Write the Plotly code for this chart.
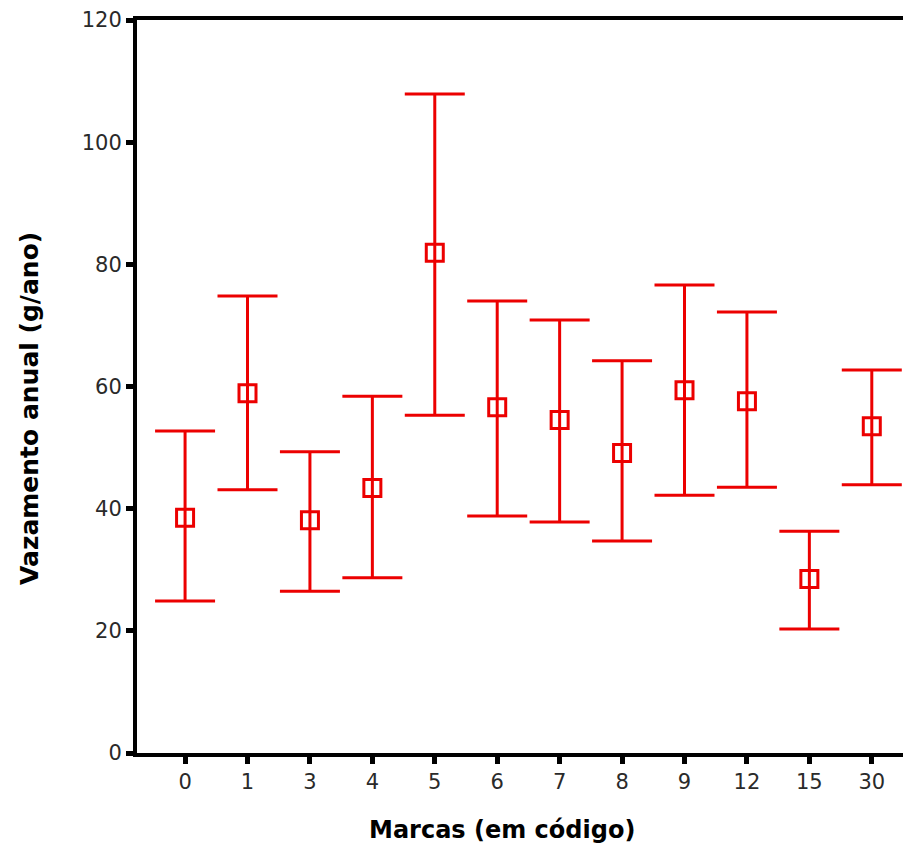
import plotly.graph_objects as go

marcas = ["0", "1", "3", "4", "5", "6", "7", "8", "9", "12", "15", "30"]
media = [38.5, 58.9, 38.1, 43.4, 81.9, 56.6, 54.5, 49.1, 59.4, 57.6, 28.5, 53.5]
limite_sup = [52.7, 74.8, 49.3, 58.4, 107.9, 74.0, 70.9, 64.2, 76.6, 72.2, 36.3, 62.7]
limite_inf = [24.9, 43.1, 26.5, 28.7, 55.3, 38.8, 37.8, 34.7, 42.2, 43.5, 20.3, 43.9]
y_ticks = [0, 20, 40, 60, 80, 100, 120]

RED = "#ec0000"
idx = list(range(len(marcas)))
err_plus = [u - m for u, m in zip(limite_sup, media)]
err_minus = [m - l for m, l in zip(media, limite_inf)]

fig = go.Figure()
fig.add_trace(go.Scatter(
    x=idx, y=media, mode="markers",
    marker=dict(symbol="square-open", size=17, color=RED, line=dict(width=3, color=RED)),
    error_y=dict(type="data", symmetric=False, array=err_plus, arrayminus=err_minus,
                 color=RED, thickness=3, width=30),
    showlegend=False, hoverinfo="skip",
))

axis_font = dict(family="DejaVu Sans", size=21, color="#2a2a2a")
fig.update_layout(
    width=903, height=848,
    margin=dict(l=137, r=0, t=20, b=95),
    paper_bgcolor="white", plot_bgcolor="white",
    xaxis=dict(range=[-0.77, 11.5], tickvals=idx, ticktext=marcas,
               showgrid=False, zeroline=False, showline=True, linecolor="black",
               linewidth=4, mirror=True, ticks="outside", ticklen=7, tickwidth=5,
               tickcolor="black", tickfont=axis_font),
    yaxis=dict(range=[0, 120], tickvals=y_ticks, showgrid=False, zeroline=False,
               showline=True, linecolor="black", linewidth=4, ticks="outside",
               ticklen=7, tickwidth=5, tickcolor="black", tickfont=axis_font),
    annotations=[
        dict(text="Marcas (em código)", xref="paper", yref="paper", x=0.4765, y=-0.105,
             xanchor="center", yanchor="middle", showarrow=False,
             font=dict(family="DejaVu Sans", size=24, color="black", weight="bold")),
        dict(text="Vazamento anual (g/ano)", xref="paper", yref="paper", x=-0.1397, y=0.4707,
             xanchor="center", yanchor="middle", showarrow=False, textangle=-90,
             font=dict(family="DejaVu Sans", size=25, color="black", weight="bold")),
    ],
)

fig.write_html("out.html")
